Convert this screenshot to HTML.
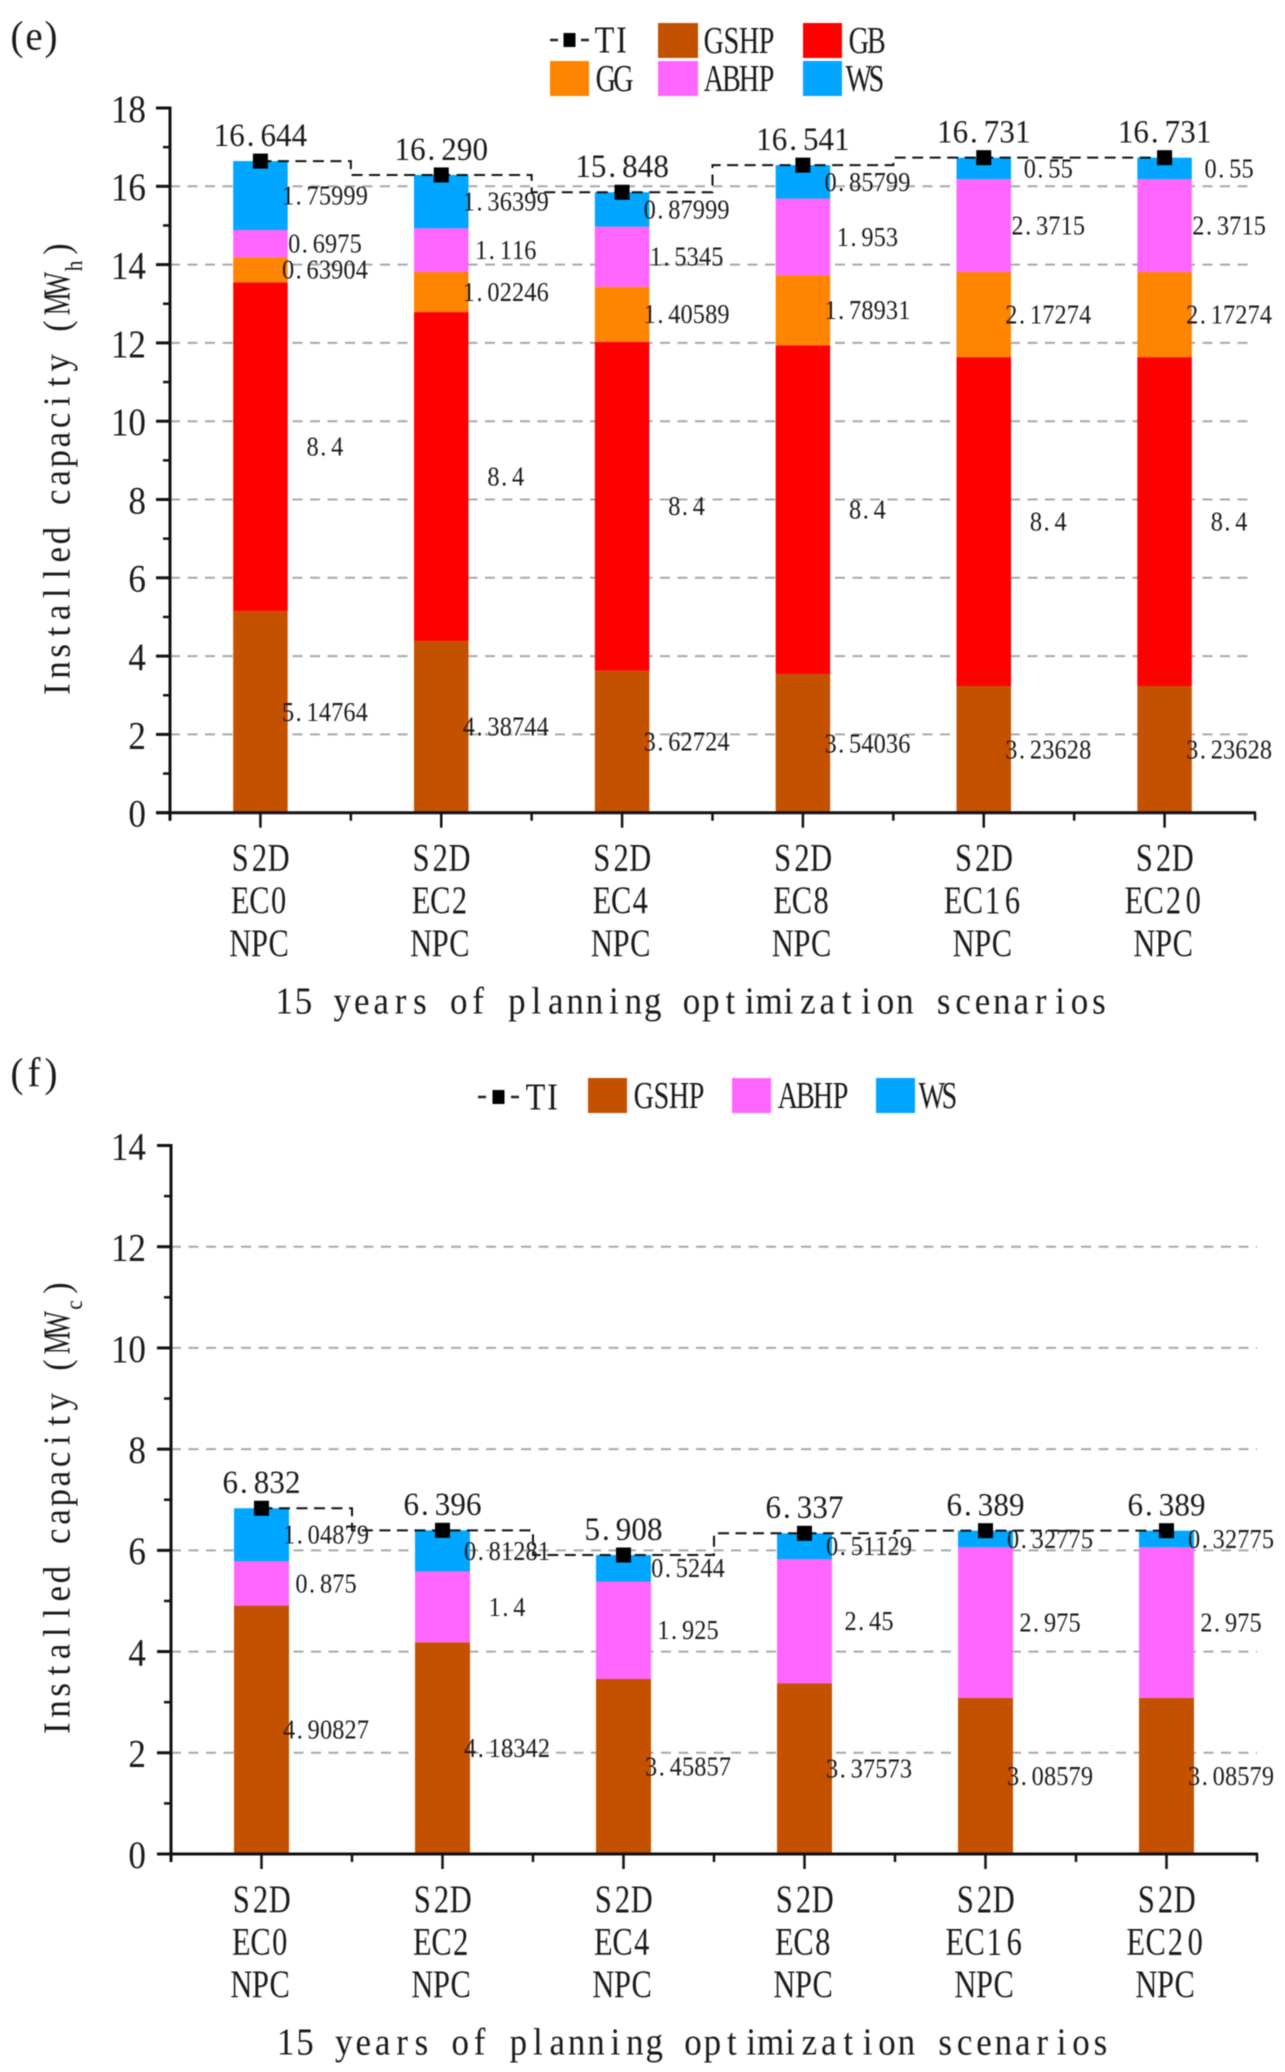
<!DOCTYPE html>
<html lang="en">
<head>
<meta charset="utf-8">
<title>Installed capacity stacked bars</title>
<style>
html,body{margin:0;padding:0;background:#fff;width:1285px;height:2072px;overflow:hidden}
svg{display:block;filter:blur(0.5px)}
text{font-family:"Liberation Serif","Noto Serif CJK SC",serif;fill:#1a1a1a;white-space:pre}
</style>
</head>
<body>
<svg id="figure" width="1285" height="2072" viewBox="0 0 1285 2072" xmlns="http://www.w3.org/2000/svg"></svg>
<script>
const categories = ['EC0', 'EC2', 'EC4', 'EC8', 'EC16', 'EC20'];
const xPrefix = 'S2D';
const xSuffix = 'NPC';

const heatYTicks = [0, 2, 4, 6, 8, 10, 12, 14, 16, 18];
const heatGshp = [5.14764, 4.38744, 3.62724, 3.54036, 3.23628, 3.23628];
const heatGb = [8.4, 8.4, 8.4, 8.4, 8.4, 8.4];
const heatGg = [0.63904, 1.02246, 1.40589, 1.78931, 2.17274, 2.17274];
const heatAbhp = [0.6975, 1.116, 1.5345, 1.953, 2.3715, 2.3715];
const heatWs = [1.75999, 1.36399, 0.87999, 0.85799, 0.55, 0.55];
const heatTi = [16.644, 16.290, 15.848, 16.541, 16.731, 16.731];

const coolYTicks = [0, 2, 4, 6, 8, 10, 12, 14];
const coolGshp = [4.90827, 4.18342, 3.45857, 3.37573, 3.08579, 3.08579];
const coolAbhp = [0.875, 1.4, 1.925, 2.45, 2.975, 2.975];
const coolWs = [1.04879, 0.81281, 0.5244, 0.51129, 0.32775, 0.32775];
const coolTi = [6.832, 6.396, 5.908, 6.337, 6.389, 6.389];

const xTitle = '15 years of planning optimization scenarios';
const yTitle = 'Installed capacity';

const COLORS = {GSHP:'#c45100', GB:'#ff0000', GG:'#ff8400', ABHP:'#ff66ff', WS:'#00a6ff'};
const NS = 'http://www.w3.org/2000/svg';
const figure = document.getElementById('figure');
const measureCtx = document.createElement('canvas').getContext('2d');

function make(tag, attrs, parent) {
  const node = document.createElementNS(NS, tag);
  for (const key in attrs) node.setAttribute(key, attrs[key]);
  parent.appendChild(node);
  return node;
}

function monoText(parent, str, cx, cy, fs, cell, sx, rotation) {
  measureCtx.font = fs + 'px "Liberation Serif"';
  const total = str.length * cell;
  const xs = Array.from(str).map(function (c, i) {
    const w = measureCtx.measureText(c).width * sx;
    const start = -total / 2 + i * cell;
    const off = c === '.' ? cell * 0.12 : (cell - w) / 2;
    return ((start + off) / sx).toFixed(2);
  });
  const node = make('text', {
    x: xs.join(' '),
    y: (fs * 0.33).toFixed(2),
    'font-size': fs,
    transform: 'translate(' + cx + ',' + cy + ') rotate(' + (rotation || 0) + ') scale(' + sx + ',1)'
  }, parent);
  node.textContent = str;
  return node;
}

function drawChart(cfg) {
  const root = make('g', {}, figure);
  
  

  const step = (cfg.xEnd - cfg.x0) / categories.length;
  const xScale = function (i) { return cfg.x0 + (i + 0.5) * step; };
  const yMax = cfg.yTicks[cfg.yTicks.length - 1];
  const yScale = function (v) { return cfg.yZero - (v / yMax) * (cfg.yZero - cfg.yTop); };

  cfg.yTicks.forEach(function (t, k) {
    if (t === 0 || k === cfg.yTicks.length - 1) return;
    const grid = make('line', {x1: cfg.x0, x2: cfg.xEnd, y1: yScale(t), y2: yScale(t), stroke: '#a8a8a8', 'stroke-width': 2, 'stroke-dasharray': '10 7.5'}, root);
    
    
  });

  cfg.series.forEach(function (s) {
    s.values.forEach(function (v, i) {
      let base = 0;
      cfg.series.forEach(function (o) {
        if (cfg.series.indexOf(o) < cfg.series.indexOf(s)) base += o.values[i];
      });
      const rect = make('rect', {x: xScale(i) - cfg.barWidth / 2, y: yScale(base + v), width: cfg.barWidth, height: yScale(base) - yScale(base + v), fill: COLORS[s.key]}, root);
      
      
    });
  });

  let d = 'M' + xScale(0) + ' ' + yScale(cfg.total[0]);
  for (let i = 1; i < cfg.total.length; i++) {
    const bx = cfg.x0 + i * step;
    d += ' H' + bx + ' V' + yScale(cfg.total[i]) + ' H' + xScale(i);
  }
  const stepLine = make('path', {d: d, fill: 'none', stroke: '#111', 'stroke-width': 2, 'stroke-dasharray': '11 6.5'}, root);
  
  

  const yAxis = make('line', {x1: cfg.x0, x2: cfg.x0, y1: cfg.yTop - 1.5, y2: cfg.yZero + 8, stroke: '#111', 'stroke-width': 3}, root);
  
  
  const xAxis = make('line', {x1: cfg.x0 - 14, x2: cfg.xEnd + 1, y1: cfg.yZero, y2: cfg.yZero, stroke: '#111', 'stroke-width': 3}, root);
  
  

  cfg.yTicks.forEach(function (t, k) {
    const tick = make('line', {x1: cfg.x0 - 14, x2: cfg.x0, y1: yScale(t), y2: yScale(t), stroke: '#111', 'stroke-width': 3}, root);
    
    
    const str = String(t);
    const label = monoText(root, str, 146 - str.length * 8.8, yScale(t) + 1, 39, 17.6, 0.9);
    
    
    if (k < cfg.yTicks.length - 1) {
      const mv = (t + cfg.yTicks[k + 1]) / 2;
      const minor = make('line', {x1: cfg.x0 - 7, x2: cfg.x0, y1: yScale(mv), y2: yScale(mv), stroke: '#111', 'stroke-width': 2.5}, root);
      
      
    }
  });

  for (let i = 0; i <= categories.length; i++) {
    const bx = cfg.x0 + i * step;
    const minor = make('line', {x1: bx, x2: bx, y1: cfg.yZero, y2: cfg.yZero + 8, stroke: '#111', 'stroke-width': 2.5}, root);
    
    
  }

  categories.forEach(function (cat, i) {
    const tick = make('line', {x1: xScale(i), x2: xScale(i), y1: cfg.yZero, y2: cfg.yZero + 15, stroke: '#111', 'stroke-width': 2.5}, root);
    
    
    [xPrefix, cat, xSuffix].forEach(function (line, li) {
      const cell = line.length === 4 ? 19.8 : 19.2;
      const lab = monoText(root, line, xScale(i) - 1, cfg.yZero + 45 + li * 42.6, 39, cell, 0.78);
      
      
    });
  });

  cfg.total.forEach(function (v, i) {
    const y = yScale(v);
    const marker = make('rect', {x: xScale(i) - 7.5, y: y - 7.5, width: 15, height: 15, fill: '#000'}, root);
    
    
    const tot = monoText(root, v.toFixed(3), xScale(i), y - 26, 33, 15.6, 0.94);
    
    
  });

  cfg.series.forEach(function (s) {
    s.values.forEach(function (v, i) {
      let base = 0;
      cfg.series.forEach(function (o) {
        if (cfg.series.indexOf(o) < cfg.series.indexOf(s)) base += o.values[i];
      });
      const lab = monoText(root, String(v), xScale(i) + 64.5, yScale(base + v / 2), 27, 12.3, 0.9);
      
      
    });
  });

  const xt = monoText(root, xTitle, (cfg.x0 + cfg.xEnd) / 2 - 21, cfg.yZero + 188, 38, 19.4, 0.92);
  
  

  const yb = cfg.titleBottom;
  const yt = monoText(root, yTitle, 57, yb - 171, 38, 19.2, 0.92, -90);
  
  
  const lp = monoText(root, '(', 57, yb - 371, 38, 19, 0.9, -90);
  
  
  const mw = monoText(root, 'MW', 57, yb - 403, 38, 19.5, 0.68, -90);
  
  
  const sub = monoText(root, cfg.unitSub, 74, yb - 431, 24, 12, 0.9, -90);
  
  
  const rp = monoText(root, ')', 57, yb - 448, 38, 19, 0.9, -90);
  
  

  const tag = monoText(root, cfg.panel, 34, cfg.panelY, 41, 17, 0.95);
  
  
}

function legendSwatch(key, x, y, w, h) {
  const sw = make('rect', {x: x, y: y, width: w, height: h, fill: COLORS[key]}, figure);
  
  
  const t = monoText(figure, key, x + 47 + key.length * 8.8, y + h / 2, 38, 17.6, 0.74);
  
  
}

function legendLine(xLeft, xRight, y, textCx) {
  const len = xRight - xLeft;
  const dash = make('line', {x1: xLeft, x2: xRight, y1: y, y2: y, stroke: '#222', 'stroke-width': 2.5, 'stroke-dasharray': '8 ' + (len - 16) + ' 8'}, figure);
  
  
  const mk = make('rect', {x: (xLeft + xRight) / 2 - 6, y: y - 7, width: 12, height: 14, fill: '#000'}, figure);
  
  
  const t = monoText(figure, 'TI', textCx, y, 38, 17, 0.85);
  
  
}

drawChart({
  name: 'heating-capacity-chart', panel: '(e)', panelY: 36, unitSub: 'h', titleBottom: 697,
  x0: 170, xEnd: 1255, yTop: 108, yZero: 812.7, barWidth: 54.5, yTicks: heatYTicks, total: heatTi,
  series: [
    {key: 'GSHP', values: heatGshp},
    {key: 'GB', values: heatGb},
    {key: 'GG', values: heatGg},
    {key: 'ABHP', values: heatAbhp},
    {key: 'WS', values: heatWs}
  ]
});

drawChart({
  name: 'cooling-capacity-chart', panel: '(f)', panelY: 1073, unitSub: 'c', titleBottom: 1736,
  x0: 171, xEnd: 1257, yTop: 1145.5, yZero: 1854, barWidth: 55, yTicks: coolYTicks, total: coolTi,
  series: [
    {key: 'GSHP', values: coolGshp},
    {key: 'ABHP', values: coolAbhp},
    {key: 'WS', values: coolWs}
  ]
});

legendLine(550, 589, 40, 613);
legendSwatch('GSHP', 658, 23, 40, 35);
legendSwatch('GB', 803, 23, 39, 35);
legendSwatch('GG', 550, 61, 39, 35);
legendSwatch('ABHP', 658, 61, 40, 35);
legendSwatch('WS', 803, 61, 39, 35);

legendLine(478, 519, 1097, 544);
legendSwatch('GSHP', 588, 1078, 39, 35);
legendSwatch('ABHP', 732, 1078, 39, 35);
legendSwatch('WS', 876, 1078, 39, 35);
</script>
</body>
</html>
